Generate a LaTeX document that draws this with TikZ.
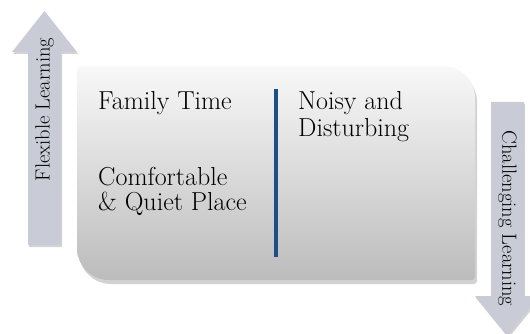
\documentclass[tikz,border=0pt]{standalone}
\usetikzlibrary{shadows}
\definecolor{boxtop}{RGB}{248,248,248}
\definecolor{boxbot}{RGB}{188,188,188}
\definecolor{arrowfill}{RGB}{201,204,214}
\definecolor{divider}{RGB}{31,78,132}
\tikzset{
  bigtext/.style={font=\fontsize{26}{28}\selectfont, inner sep=0pt, text=black, anchor=base west},
  arrowtext/.style={font=\fontsize{20.5}{22}\selectfont, inner sep=0pt, text=black},
  arrowbody/.style={fill=arrowfill, draw=none, drop shadow={shadow xshift=1pt, shadow yshift=-2pt, opacity=0.35}},
}
\begin{document}
\begin{tikzpicture}[x=1pt,y=-1pt]
\useasboundingbox (0,0) rectangle (530,334);
\clip (0,0) rectangle (530,334);
% main box
\path[top color=boxtop, bottom color=boxbot, drop shadow={shadow xshift=2pt, shadow yshift=-4pt, opacity=0.35}]
  (77,173) [rounded corners=4pt] |- (276,66) [rounded corners=32pt] -| (475,173)
  [rounded corners=3pt] |- (276,280) [rounded corners=32pt] -| (77,173) -- cycle;
% left arrow
\path[arrowbody] (28,245) -- (28,52) -- (12,52) -- (44.5,11) -- (77,52) -- (61,52) -- (61,245) -- cycle;
% right arrow
\path[arrowbody] (491,102) -- (524,102) -- (524,296) -- (540,296) -- (507.5,336) -- (475,296) -- (491,296) -- cycle;
% divider
\coordinate (dtop) at (276,89);
\coordinate (dbot) at (276,257);
\draw[line width=4pt, divider, drop shadow={shadow xshift=1pt, shadow yshift=-1pt, opacity=0.3}] (dtop) -- (dbot);
% texts
\node[bigtext] (family) at (98,110) {Family Time};
\node[bigtext] (comfortA) at (98,185) {Comfortable};
\node[bigtext] (comfortB) at (98,210) {\& Quiet Place};
\node[bigtext] (noisyA) at (298,110) {Noisy and};
\node[bigtext] (noisyB) at (298,136) {Disturbing};
\node[arrowtext, rotate=90] (flex) at (44.5,109.5) {Flexible Learning};
\node[arrowtext, rotate=-90] (chal) at (507.5,218.5) {Challenging Learning};
\end{tikzpicture}
\end{document}
